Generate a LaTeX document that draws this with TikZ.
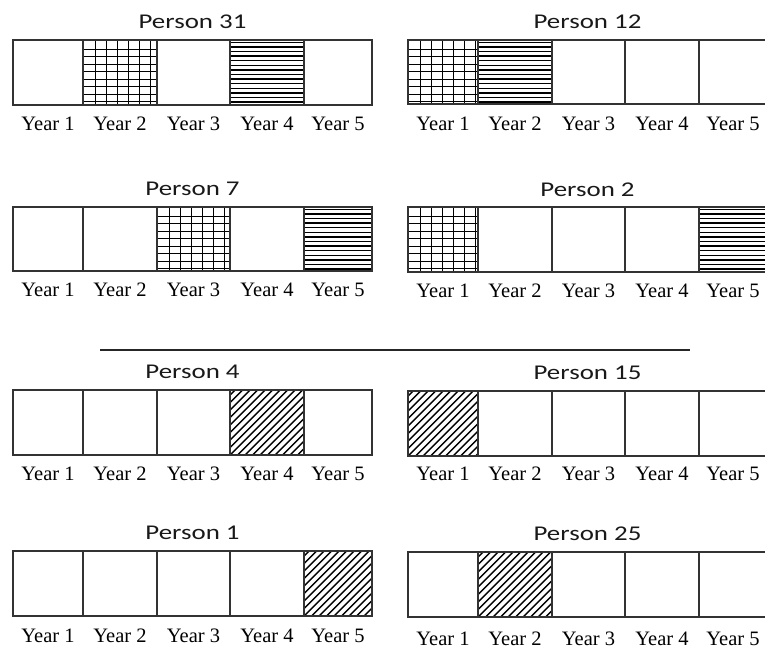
\documentclass[tikz,border=0pt]{standalone}
\usepackage{fontspec}
\setmainfont{Liberation Serif}
\newfontfamily\titlefont[FakeStretch=1.28]{Carlito}

\tikzset{
  cell/.style={draw=black!80, line width=1.4pt},
  plain/.style={},
  % fills of the year cells
  mesh/.style={path picture={
    \foreach \k in {0,...,6}
      \draw[black, line width=1pt] ([xshift=12pt+\k*11pt]path picture bounding box.north west)
        -- ([xshift=12pt+\k*11pt]path picture bounding box.south west);
    \foreach \k in {1,...,8}
      \draw[black, line width=1pt] ([yshift=-1.8pt-\k*7.5pt]path picture bounding box.north west)
        -- ([yshift=-1.8pt-\k*7.5pt]path picture bounding box.north east);
  }},
  stripes/.style={path picture={
    \foreach \k in {0,...,13}
      \draw[black, line width=1.4pt] ([yshift=-2.3pt-\k*4.6pt]path picture bounding box.north west)
        -- ([yshift=-2.3pt-\k*4.6pt]path picture bounding box.north east);
  }},
  hatch/.style={path picture={
    \foreach \k in {-10,...,10}
      \draw[black, line width=1.4pt] ([xshift=\k*7.5pt]path picture bounding box.south west) -- ++(80pt,80pt);
  }},
  title/.style={font=\titlefont\fontsize{21}{24}\selectfont, text=black!90, anchor=base},
  year/.style={font=\fontsize{20.5}{23}\selectfont, text=black, anchor=base}
}

% #1 person, #2 x shift, #3 top, #4 bottom, #5 title baseline, #6 label baseline, #7 fills
\newcommand\personrow[7]{%
  \node[title] (p#1) at (#2+192.5,#5) {Person #1};
  \foreach \f [count=\i] in {#7} {
    \pgfmathsetmacro\xl{#2+{13,83,157,230,304}[\i-1]}
    \pgfmathsetmacro\xr{#2+{83,157,230,304,372}[\i-1]}
    \draw[cell,\f] (\xl,#3) rectangle (\xr,#4);
    \node[year] (p#1-\i) at ({(\xl+\xr)/2},#6) {Year \i};
  }
}

\begin{document}
\begin{tikzpicture}[x=1pt,y=-1pt]
\useasboundingbox (0,0) rectangle (765,654);
\clip (0,0) rectangle (765,654);

\personrow{31}{0}{40}{105}{28}{130}{plain,mesh,plain,stripes,plain}
\personrow{12}{395}{40}{104}{28}{130}{mesh,stripes,plain,plain,plain}
\personrow{7}{0}{207}{271}{195}{296}{plain,plain,mesh,plain,stripes}
\personrow{2}{395}{207}{272}{196}{297}{mesh,plain,plain,plain,stripes}

% separator
\coordinate (sepl) at (100,349.5);
\coordinate (sepr) at (690,349.5);
\draw[line width=2pt, black!85] (sepl) -- (sepr);

\personrow{4}{0}{390}{455}{378}{480}{plain,plain,plain,hatch,plain}
\personrow{15}{395}{391}{456}{379}{480}{hatch,plain,plain,plain,plain}
\personrow{1}{0}{551}{616}{539}{642}{plain,plain,plain,plain,hatch}
\personrow{25}{395}{552}{617}{540}{645}{plain,hatch,plain,plain,plain}
\end{tikzpicture}
\end{document}
